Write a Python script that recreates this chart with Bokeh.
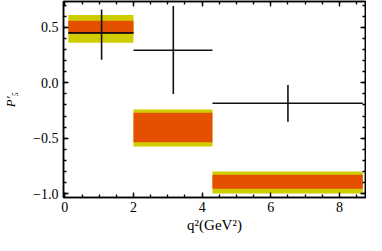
import numpy as np
from bokeh.plotting import figure
from bokeh.models import Range1d, LinearAxis, FixedTicker
from bokeh.embed import file_html
from bokeh.resources import INLINE

# ---- data ----
bin_lo = [0.1, 2.0, 4.3]
bin_hi = [2.0, 4.3, 8.68]
outer_lo = [0.36, -0.575, -0.997]
outer_hi = [0.612, -0.241, -0.800]
inner_lo = [0.44, -0.537, -0.954]
inner_hi = [0.56, -0.270, -0.828]
exp_x = [1.07, 3.16, 6.50]
exp_y = [0.45, 0.293, -0.184]
exp_hi = [0.66, 0.692, -0.02]
exp_lo = [0.207, -0.101, -0.351]
x_ticks = [0, 2, 4, 6, 8]
x_tick_labels = ["0", "2", "4", "6", "8"]
y_ticks = [-1.0, -0.5, 0.0, 0.5]
y_tick_labels = ["\u22121.0", "\u22120.5", "0.0", "0.5"]
x_title = "q\u00b2(GeV\u00b2)"
y_title = "P\u2032\u2085"

# ---- layout ----
W, H = 366, 235
XR = (-0.04, 8.76)
YR = (-1.034, 0.733)
YEL = "#cfcc00"
ORA = "#e55000"
FONT = "Liberation Serif"

p = figure(width=W, height=H, x_range=Range1d(*XR), y_range=Range1d(*YR),
           output_backend="svg", toolbar_location=None,
           min_border_left=54, min_border_right=1,
           min_border_top=1, min_border_bottom=36)
p.grid.visible = False
p.outline_line_color = "black"
p.outline_line_width = 1.5
p.background_fill_color = "white"
p.border_fill_color = "white"

x_minor = list(np.round(np.arange(0, 8.76, 0.5), 2))
y_minor = list(np.round(np.arange(-1.0, 0.75, 0.1), 2))

top_ax = LinearAxis(axis_label=None)
right_ax = LinearAxis(axis_label=None)
p.add_layout(top_ax, "above")
p.add_layout(right_ax, "right")


def style(ax, ticks, minor, labels):
    ax.ticker = FixedTicker(ticks=ticks, minor_ticks=minor)
    ax.major_tick_in = 5
    ax.major_tick_out = 0
    ax.minor_tick_in = 3
    ax.minor_tick_out = 0
    ax.axis_line_color = "black"
    ax.axis_line_width = 1.5
    ax.major_tick_line_width = 1.3
    ax.minor_tick_line_width = 1.3
    ax.major_label_text_font = FONT
    ax.major_label_text_color = "black"
    ax.axis_label_text_font = FONT
    ax.axis_label_text_color = "black"
    ax.axis_label_text_font_size = "15px"
    if labels is None:
        ax.major_label_text_font_size = "1px"
        ax.major_label_standoff = 0
        ax.major_label_overrides = {t: "" for t in ticks}
        ax.axis_label = None
    else:
        ax.major_label_text_font_size = "14px"
        ax.major_label_overrides = {t: l for t, l in zip(ticks, labels)}


for ax in p.xaxis:
    if ax is top_ax:
        style(ax, x_ticks, x_minor, None)
    else:
        style(ax, x_ticks, x_minor, x_tick_labels)
        ax.major_label_standoff = 4
        ax.axis_label = x_title
        ax.axis_label_standoff = 2
        ax.axis_label_text_font_style = "normal"
for ax in p.yaxis:
    if ax is right_ax:
        style(ax, y_ticks, y_minor, None)
    else:
        style(ax, y_ticks, y_minor, y_tick_labels)
        ax.major_label_standoff = 5
        ax.axis_label = y_title
        ax.axis_label_standoff = 12
        ax.axis_label_text_font_style = "italic"
        ax.axis_label_text_font_size = "13px"

# bands
p.quad(left=bin_lo, right=bin_hi, bottom=outer_lo, top=outer_hi,
       fill_color=YEL, line_color=None)
p.quad(left=bin_lo, right=bin_hi, bottom=inner_lo, top=inner_hi,
       fill_color=ORA, line_color=None)

# data crosses
p.segment(x0=bin_lo, y0=exp_y, x1=bin_hi, y1=exp_y, line_color="#111111", line_width=1.6)
p.segment(x0=exp_x, y0=exp_lo, x1=exp_x, y1=exp_hi, line_color="#111111", line_width=1.6)

open("out.html", "w").write(file_html(p, INLINE))
